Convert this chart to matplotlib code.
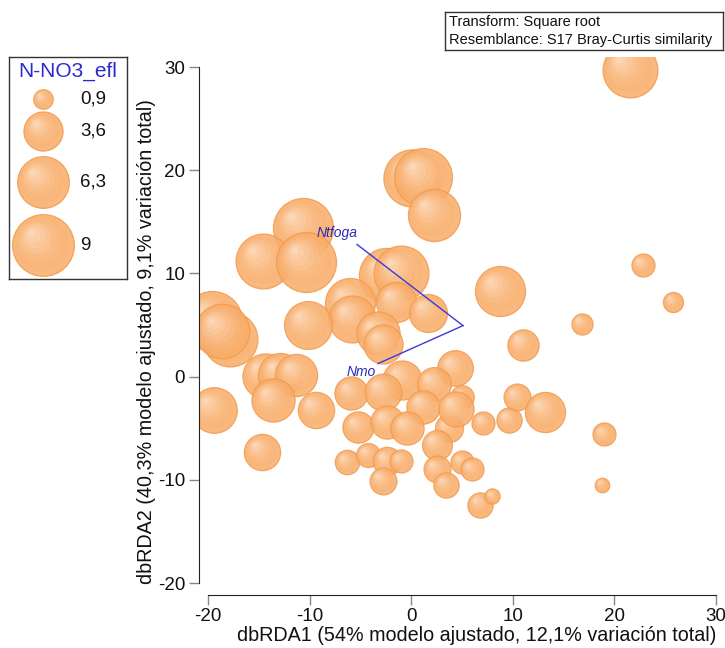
import matplotlib
matplotlib.use("Agg")
import matplotlib.pyplot as plt
from matplotlib.transforms import offset_copy
import numpy as np

plt.rcParams['font.family'] = ['Liberation Sans', 'DejaVu Sans']

# dbRDA sample scores and N-NO3 effluent concentration (bubble size)
db1 = [21.5, 0.1, 1.2, 2.2, -10.65, -14.6, -10.35, -2.5, -1.0, -1.5,
       1.65, -6.0, -5.8, -3.3, -2.8, -10.15, 8.7, 4.3, -0.9, -19.6,
       -17.8, -18.6, -19.4, -14.4, -12.9, -11.3, -13.6, -9.4, -14.7, -5.9,
       -5.2, -6.3, 2.2, -2.8, 1.2, 5.0, -2.4, -0.4, 3.7, 2.5,
       -4.25, -2.4, -1.0, -2.8, 2.5, 3.4, 5.0, 6.0, 6.8, 8.0,
       7.1, 9.6, 10.4, 11.0, 16.8, 25.8, 13.2, 19.0, 18.8, 22.8,
       4.4]
db2 = [29.7, 19.2, 19.3, 15.7, 14.4, 11.2, 11.1, 9.8, 10.0, 7.2,
       6.2, 7.1, 5.6, 4.2, 3.2, 5.0, 8.3, 0.8, -0.3, 5.4,
       3.6, 4.4, -3.2, 0.1, 0.2, 0.2, -2.3, -3.2, -7.3, -1.6,
       -4.9, -8.3, -0.7, -1.45, -2.9, -2.0, -4.4, -5.0, -5.0, -6.6,
       -7.6, -8.2, -8.2, -10.1, -9.0, -10.5, -8.3, -9.0, -12.4, -11.6,
       -4.5, -4.2, -2.0, 3.1, 5.1, 7.2, -3.4, -5.6, -10.5, 10.8,
       -3.1]
no3 = [7.1, 7.7, 7.9, 6.4, 8.5, 7.1, 8.5, 6.9, 7.1, 3.8,
       3.4, 5.9, 5.2, 4.4, 3.6, 5.4, 5.9, 3.0, 3.6, 8.5,
       7.1, 7.0, 4.9, 4.8, 4.6, 4.2, 4.4, 3.1, 3.1, 2.6,
       2.3, 1.4, 2.7, 3.2, 2.6, 1.3, 2.6, 2.6, 1.85, 2.1,
       1.35, 1.9, 1.25, 1.7, 1.7, 1.5, 1.25, 1.25, 1.5, 0.55,
       1.25, 1.5, 1.7, 2.3, 1.05, 0.95, 3.8, 1.25, 0.5, 1.25,
       2.9]

# Predictor vectors
vec_names = ["Ntfoga", "Nmo"]
vec_origin = (5.1, 4.94)
vec_end_x = [-5.33, -3.27]
vec_end_y = [12.8, 1.26]
vec_label_x = [-7.3, -4.9]
vec_label_y = [13.95, 0.4]

legend_values = [0.9, 3.6, 6.3, 9]
legend_labels = ["0,9", "3,6", "6,3", "9"]

xticks = [-20, -10, 0, 10, 20, 30]
yticks = [-20, -10, 0, 10, 20, 30]

W, H = 725, 648
fig = plt.figure(figsize=(W / 100, H / 100), dpi=100)

def px_axes(x0, y0, x1, y1):
    return fig.add_axes([x0 / W, 1 - y1 / H, (x1 - x0) / W, (y1 - y0) / H])

SIZE_K = 220.0  # marker area (pt^2) per unit of N-NO3

# bubble shading: base disc plus soft lighter inner layers
BASE = np.array([248, 172, 104]) / 255
LIGHT = np.array([254, 228, 204]) / 255
N_LAYERS = 7

def bubble(ax, x, y, v, z):
    ax.scatter([x], [y], s=SIZE_K * v, color=BASE, alpha=0.85,
               edgecolors='#F29B4E', linewidths=0.9, zorder=z)
    r = np.sqrt(SIZE_K * v) / 2
    for k in range(1, N_LAYERS + 1):
        t = k / N_LAYERS
        frac = (1 - 0.88 * t) ** 2
        col = BASE + (LIGHT - BASE) * t
        off = (1 - np.sqrt(frac)) * r * 0.42
        tr = offset_copy(ax.transData, fig=fig, x=-off, y=off, units='points')
        ax.scatter([x], [y], s=SIZE_K * v * frac, color=col, alpha=0.38,
                   edgecolors='none', transform=tr, zorder=z)

# main plot
ax = px_axes(199, 57, 725, 592)
ax.set_xlim(-20.886, 30.89)
ax.set_ylim(-20.87, 30.97)
ax.patch.set_alpha(0)

for i, (x, y, v) in enumerate(zip(db1, db2, no3)):
    bubble(ax, x, y, v, 2 + i * 0.01)

for ex, ey, lx, ly, name in zip(vec_end_x, vec_end_y, vec_label_x, vec_label_y, vec_names):
    ax.plot([vec_origin[0], ex], [vec_origin[1], ey], color='#3A3AD8', lw=1.0, zorder=5)
    ax.text(lx, ly, name, color='#2A2AB8', fontsize=10, style='italic',
            ha='center', va='center', zorder=6)

for side in ['top', 'right']:
    ax.spines[side].set_visible(False)
ax.spines['left'].set_position(('outward', 0))
ax.spines['bottom'].set_position(('outward', 2.2))
ax.spines['left'].set_bounds(-20, 30)
ax.spines['bottom'].set_bounds(-20, 30)
ax.spines['left'].set_color('#222222')
ax.spines['bottom'].set_color('#222222')
ax.set_xticks(xticks)
ax.set_yticks(yticks)
ax.set_xticklabels([str(t) for t in xticks])
ax.set_yticklabels([str(t) for t in yticks])
ax.tick_params(axis='both', length=7, width=1, color='#888888',
               labelsize=13.5, labelcolor='#111111', pad=3)
ax.tick_params(axis='x', pad=2)
ax.set_xlabel("dbRDA1 (54% modelo ajustado, 12,1% variación total)",
              fontsize=14.2, color='#111111', labelpad=1)
ax.set_ylabel("dbRDA2 (40,3% modelo ajustado, 9,1% variación total)",
              fontsize=14.2, color='#111111', labelpad=1)
ax.xaxis.label.set_x(0.5285)
ax.yaxis.label.set_y(0.469)

# info box
box = px_axes(445, 12, 723, 50)
box.set_xticks([]); box.set_yticks([])
box.set_xlim(0, 1); box.set_ylim(0, 1)
for s in box.spines.values():
    s.set_color('#333333'); s.set_linewidth(1)
box.text(0.013, 0.74, "Transform: Square root", fontsize=10.5, va='center', ha='left', color='#111111')
box.text(0.013, 0.26, "Resemblance: S17 Bray-Curtis similarity", fontsize=10.5, va='center', ha='left', color='#111111')

# size legend
lg = px_axes(9, 57, 127, 279)
lg.set_xlim(0, 118)
lg.set_ylim(222, 0)
lg.set_xticks([]); lg.set_yticks([])
for s in lg.spines.values():
    s.set_color('#333333'); s.set_linewidth(1)
lg.text(59, 14, "N-NO3_efl", color='#2A2AD0', fontsize=15, ha='center', va='center')
leg_y = [42, 74, 125, 188]
for v, lab, yy in zip(legend_values, legend_labels, leg_y):
    bubble(lg, 34, yy, v, 2)
    lg.text(71, yy, lab, fontsize=13.5, ha='left', va='center', color='#111111')

fig.savefig("out.png", dpi=100)
